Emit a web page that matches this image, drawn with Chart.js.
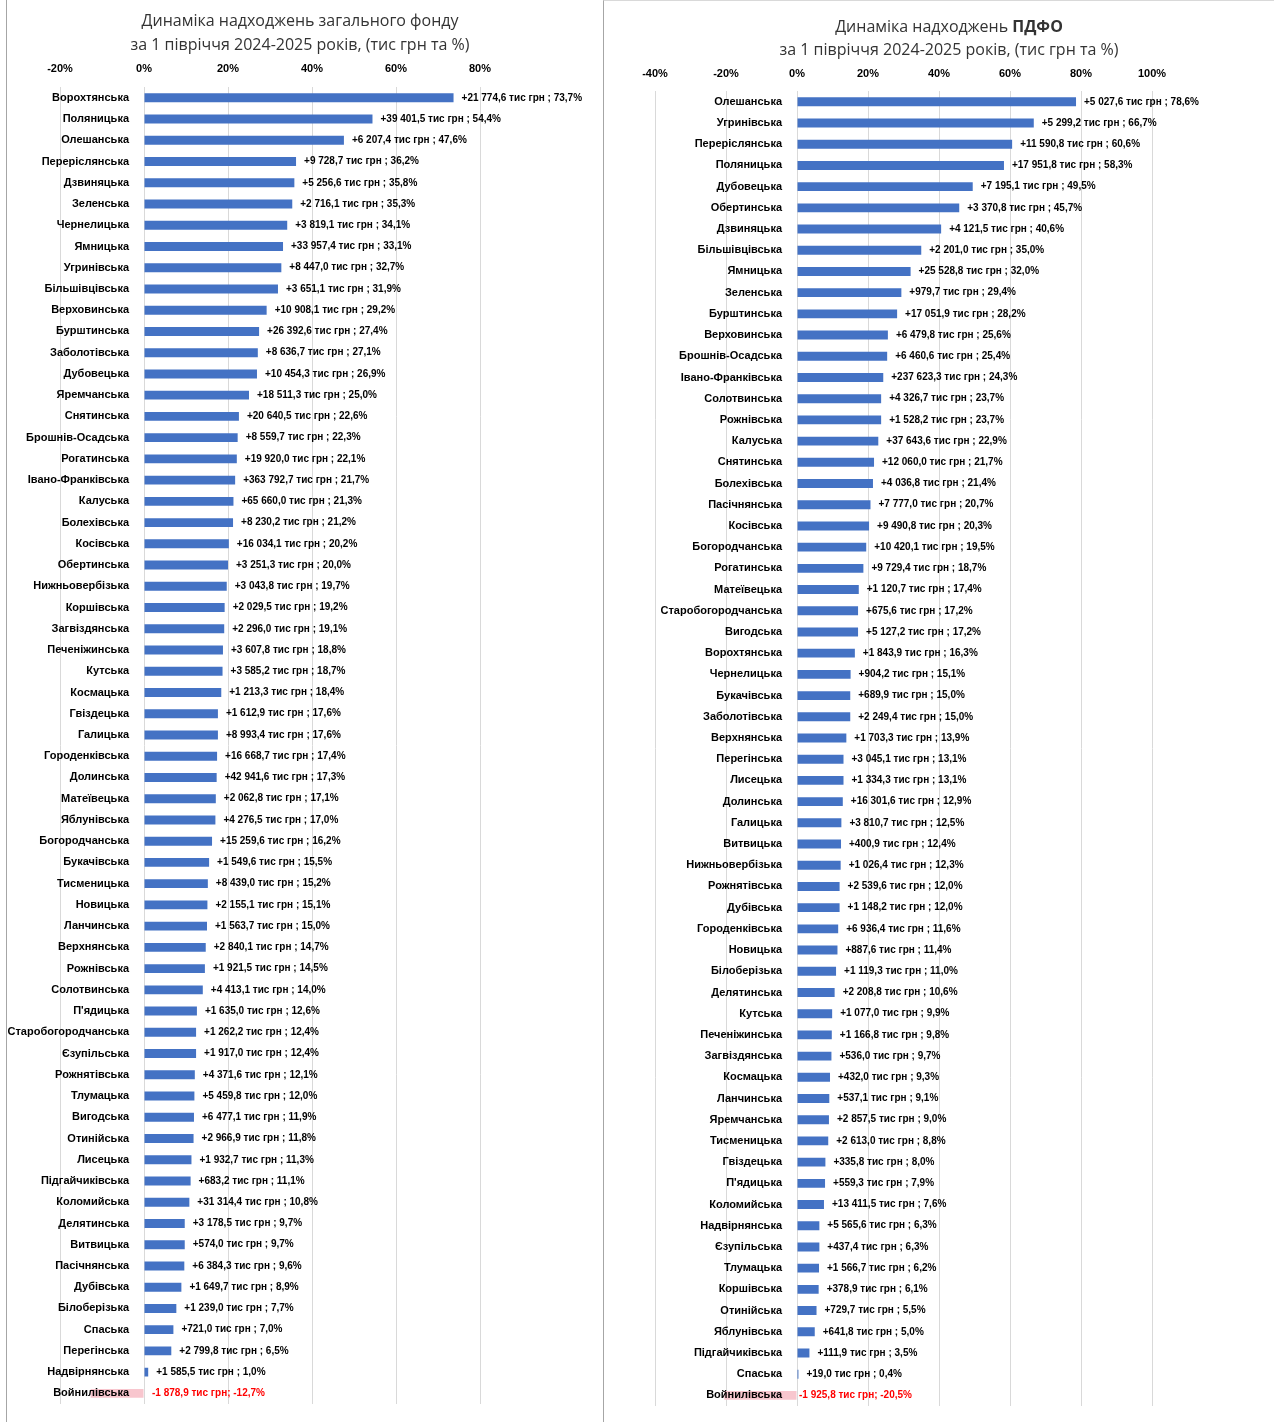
<!DOCTYPE html>
<html>
<head>
<meta charset="utf-8">
<script src="https://cdn.jsdelivr.net/npm/chart.js@4.4.1/dist/chart.umd.min.js"></script>
<style>
  body { margin: 0; background: #fff; }
  .box { position: absolute; top: 0; height: 1422px; }
  #b1 { left: 6px; width: 594px; border-left: 1px solid #a6a6a6; }
  #b2 { left: 603px; width: 670px; border-left: 1px solid #a6a6a6; border-top: 1px solid #d9d9d9; height: 1421px; }
</style>
</head>
<body>
<div class="box" id="b1"><canvas id="c1"></canvas></div>
<div class="box" id="b2"><canvas id="c2"></canvas></div>
<script>
// загальний фонд
const names1 = ['Ворохтянська', 'Поляницька', 'Олешанська', 'Переріслянська', 'Дзвиняцька', 'Зеленська', 'Чернелицька',
  'Ямницька', 'Угринівська', 'Більшівцівська', 'Верховинська', 'Бурштинська', 'Заболотівська', 'Дубовецька',
  'Яремчанська', 'Снятинська', 'Брошнів-Осадська', 'Рогатинська', 'Івано-Франківська', 'Калуська', 'Болехівська',
  'Косівська', 'Обертинська', 'Нижньовербізька', 'Коршівська', 'Загвіздянська', 'Печеніжинська', 'Кутська',
  'Космацька', 'Гвіздецька', 'Галицька', 'Городенківська', 'Долинська', 'Матеївецька', 'Яблунівська',
  'Богородчанська', 'Букачівська', 'Тисменицька', 'Новицька', 'Ланчинська', 'Верхнянська', 'Рожнівська',
  'Солотвинська', "П'ядицька", 'Старобогородчанська', 'Єзупільська', 'Рожнятівська', 'Тлумацька', 'Вигодська',
  'Отинійська', 'Лисецька', 'Підгайчиківська', 'Коломийська', 'Делятинська', 'Витвицька', 'Пасічнянська',
  'Дубівська', 'Білоберізька', 'Спаська', 'Перегінська', 'Надвірнянська', 'Войнилівська'];
const pct1 = [73.7, 54.4, 47.6, 36.2, 35.8, 35.3, 34.1, 33.1, 32.7, 31.9, 29.2, 27.4, 27.1, 26.9, 25.0, 22.6, 22.3,
  22.1, 21.7, 21.3, 21.2, 20.2, 20.0, 19.7, 19.2, 19.1, 18.8, 18.7, 18.4, 17.6, 17.6, 17.4, 17.3, 17.1, 17.0, 16.2,
  15.5, 15.2, 15.1, 15.0, 14.7, 14.5, 14.0, 12.6, 12.4, 12.4, 12.1, 12.0, 11.9, 11.8, 11.3, 11.1, 10.8, 9.7, 9.7,
  9.6, 8.9, 7.7, 7.0, 6.5, 1.0, -12.7];
const sum1 = [21774.6, 39401.5, 6207.4, 9728.7, 5256.6, 2716.1, 3819.1, 33957.4, 8447.0, 3651.1, 10908.1, 26392.6,
  8636.7, 10454.3, 18511.3, 20640.5, 8559.7, 19920.0, 363792.7, 65660.0, 8230.2, 16034.1, 3251.3, 3043.8, 2029.5,
  2296.0, 3607.8, 3585.2, 1213.3, 1612.9, 8993.4, 16668.7, 42941.6, 2062.8, 4276.5, 15259.6, 1549.6, 8439.0,
  2155.1, 1563.7, 2840.1, 1921.5, 4413.1, 1635.0, 1262.2, 1917.0, 4371.6, 5459.8, 6477.1, 2966.9, 1932.7, 683.2,
  31314.4, 3178.5, 574.0, 6384.3, 1649.7, 1239.0, 721.0, 2799.8, 1585.5, -1878.9];

// ПДФО
const names2 = ['Олешанська', 'Угринівська', 'Переріслянська', 'Поляницька', 'Дубовецька', 'Обертинська',
  'Дзвиняцька', 'Більшівцівська', 'Ямницька', 'Зеленська', 'Бурштинська', 'Верховинська', 'Брошнів-Осадська',
  'Івано-Франківська', 'Солотвинська', 'Рожнівська', 'Калуська', 'Снятинська', 'Болехівська', 'Пасічнянська',
  'Косівська', 'Богородчанська', 'Рогатинська', 'Матеївецька', 'Старобогородчанська', 'Вигодська', 'Ворохтянська',
  'Чернелицька', 'Букачівська', 'Заболотівська', 'Верхнянська', 'Перегінська', 'Лисецька', 'Долинська', 'Галицька',
  'Витвицька', 'Нижньовербізька', 'Рожнятівська', 'Дубівська', 'Городенківська', 'Новицька', 'Білоберізька',
  'Делятинська', 'Кутська', 'Печеніжинська', 'Загвіздянська', 'Космацька', 'Ланчинська', 'Яремчанська',
  'Тисменицька', 'Гвіздецька', "П'ядицька", 'Коломийська', 'Надвірнянська', 'Єзупільська', 'Тлумацька',
  'Коршівська', 'Отинійська', 'Яблунівська', 'Підгайчиківська', 'Спаська', 'Войнилівська'];
const pct2 = [78.6, 66.7, 60.6, 58.3, 49.5, 45.7, 40.6, 35.0, 32.0, 29.4, 28.2, 25.6, 25.4, 24.3, 23.7, 23.7, 22.9,
  21.7, 21.4, 20.7, 20.3, 19.5, 18.7, 17.4, 17.2, 17.2, 16.3, 15.1, 15.0, 15.0, 13.9, 13.1, 13.1, 12.9, 12.5, 12.4,
  12.3, 12.0, 12.0, 11.6, 11.4, 11.0, 10.6, 9.9, 9.8, 9.7, 9.3, 9.1, 9.0, 8.8, 8.0, 7.9, 7.6, 6.3, 6.3, 6.2, 6.1,
  5.5, 5.0, 3.5, 0.4, -20.5];
const sum2 = [5027.6, 5299.2, 11590.8, 17951.8, 7195.1, 3370.8, 4121.5, 2201.0, 25528.8, 979.7, 17051.9, 6479.8,
  6460.6, 237623.3, 4326.7, 1528.2, 37643.6, 12060.0, 4036.8, 7777.0, 9490.8, 10420.1, 9729.4, 1120.7, 675.6,
  5127.2, 1843.9, 904.2, 689.9, 2249.4, 1703.3, 3045.1, 1334.3, 16301.6, 3810.7, 400.9, 1026.4, 2539.6, 1148.2,
  6936.4, 887.6, 1119.3, 2208.8, 1077.0, 1166.8, 536.0, 432.0, 537.1, 2857.5, 2613.0, 335.8, 559.3, 13411.5,
  5565.6, 437.4, 1566.7, 378.9, 729.7, 641.8, 111.9, 19.0, -1925.8];

// рядки заголовків: [звичайний текст, жирний текст]
const title1 = [['Динаміка надходжень загального фонду', ''], ['за 1 півріччя 2024-2025 років, (тис грн та %)', '']];
const title2 = [['Динаміка надходжень ', 'ПДФО'], ['за 1 півріччя 2024-2025 років, (тис грн та %)', '']];

const LBL_FONT = '"Liberation Sans", Arial, sans-serif';

function fmtNum(n) {
  const p = Math.abs(n).toFixed(1).split('.');
  return p[0].replace(/\B(?=(\d{3})+(?!\d))/g, ' ') + ',' + p[1];
}
function makeLabel(sum, pct) {
  const p = Math.abs(pct).toFixed(1).replace('.', ',');
  if (sum < 0) return '-' + fmtNum(sum) + ' тис грн; -' + p + '%';
  return '+' + fmtNum(sum) + ' тис грн ; ' + p + '%';
}

const barText = {
  id: 'barText',
  afterDatasetsDraw(chart, args, opts) {
    const ctx = chart.ctx;
    const meta = chart.getDatasetMeta(0);
    const zero = chart.scales.x.getPixelForValue(0);
    const yScale = chart.scales.y;
    ctx.save();
    ctx.textBaseline = 'middle';
    // назви громад
    ctx.font = 'bold 11px ' + LBL_FONT;
    ctx.textAlign = 'right';
    ctx.fillStyle = '#000';
    chart.data.labels.forEach((name, i) => {
      ctx.fillText(name, zero - 15, yScale.getPixelForValue(i));
    });
    // підписи значень
    ctx.font = 'bold 10px ' + LBL_FONT;
    ctx.textAlign = 'left';
    meta.data.forEach((bar, i) => {
      const v = chart.data.datasets[0].data[i];
      const txt = makeLabel(opts.sums[i], v);
      if (v < 0) {
        ctx.fillStyle = '#ff0000';
        ctx.fillText(txt, zero + opts.negGap, bar.y);
      } else {
        ctx.fillStyle = '#000';
        ctx.fillText(txt, bar.x + 8, bar.y);
      }
    });
    ctx.restore();
  },
  afterDraw(chart, args, opts) {
    const ctx = chart.ctx;
    ctx.save();
    ctx.textBaseline = 'middle';
    ctx.textAlign = 'left';
    ctx.fillStyle = '#333';
    opts.title.forEach((line, i) => {
      const fN = '16px "Open Sans", sans-serif';
      const fB = 'bold 16px "Open Sans", sans-serif';
      ctx.font = fN;
      const w1 = ctx.measureText(line[0]).width;
      ctx.font = fB;
      const w2 = ctx.measureText(line[1]).width;
      let x = opts.titleX - (w1 + w2) / 2;
      const y = opts.titleY[i];
      ctx.font = fN;
      ctx.fillText(line[0], x, y);
      ctx.font = fB;
      ctx.fillText(line[1], x + w1, y);
    });
    ctx.restore();
  }
};

function build(id, names, pct, sums, title, min, max, pad, tickPad, negGap, titleX, titleY) {
  new Chart(document.getElementById(id), {
    type: 'bar',
    data: {
      labels: names,
      datasets: [{
        data: pct,
        backgroundColor: pct.map(v => v < 0 ? '#f8c6ce' : '#4472c4'),
        categoryPercentage: 1,
        barPercentage: 0.42
      }]
    },
    plugins: [barText],
    options: {
      indexAxis: 'y',
      responsive: true,
      maintainAspectRatio: false,
      animation: false,
      layout: { padding: pad },
      plugins: {
        legend: { display: false },
        tooltip: { enabled: false },
        title: { display: false },
        barText: { sums: sums, negGap: negGap, title: title, titleX: titleX, titleY: titleY }
      },
      scales: {
        x: {
          position: 'top',
          min: min,
          max: max,
          ticks: {
            stepSize: 20,
            callback: v => v + '%',
            color: '#000',
            padding: tickPad,
            font: { family: LBL_FONT, size: 11, weight: 'bold' }
          },
          grid: { color: '#d9d9d9', drawTicks: false },
          border: { display: false }
        },
        y: {
          display: false
        }
      }
    }
  });
}

build('c1', names1, pct1, sum1, title1, -20, 80, { left: 53, right: 121, top: 50, bottom: 18 }, 12, 8, 293, [21, 45]);
build('c2', names2, pct2, sum2, title2, -40, 100, { left: 51, right: 122, top: 55, bottom: 16 }, 11, 2, 345, [26, 49]);
</script>
</body>
</html>
